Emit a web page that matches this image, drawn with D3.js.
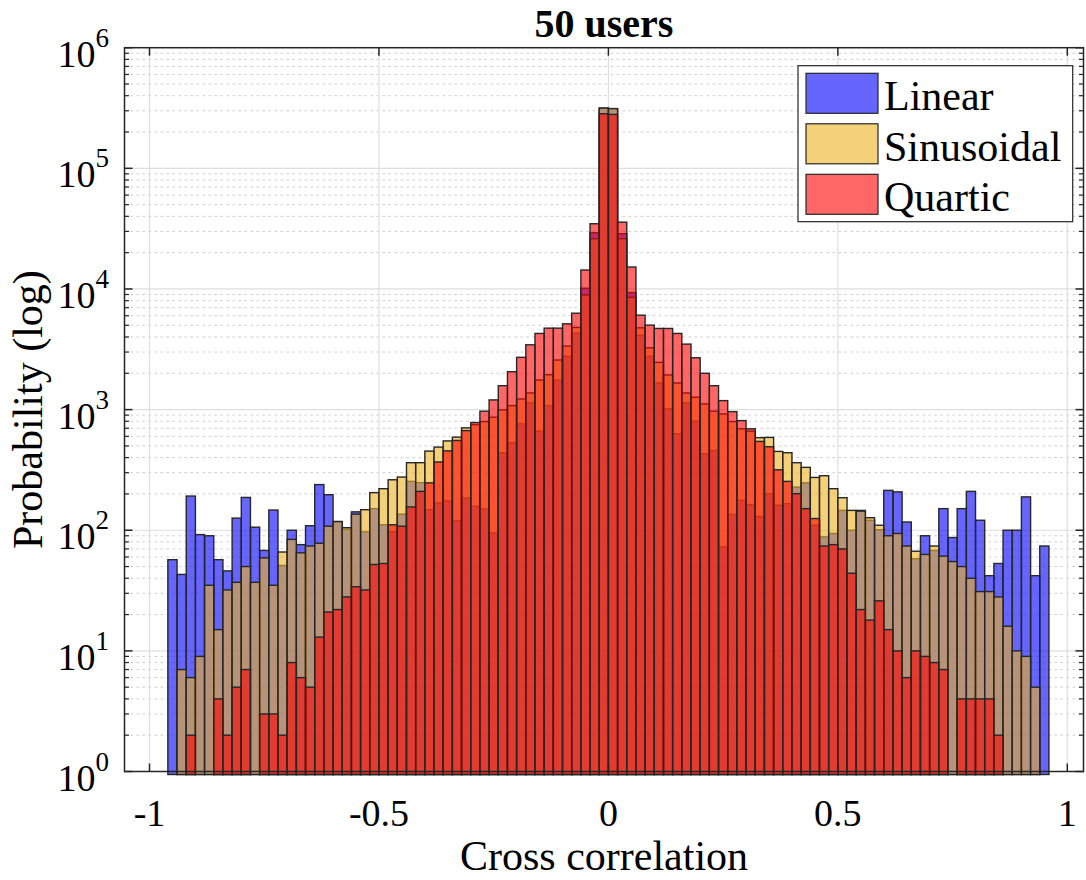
<!DOCTYPE html>
<html>
<head>
<meta charset="utf-8">
<script src="https://cdn.jsdelivr.net/npm/d3@7"></script>
<style>
  body { margin: 0; background: #fff; }
  svg { display: block; }
  text { font-family: "Liberation Serif", "Times New Roman", serif; fill: #000; }
</style>
</head>
<body>
<svg id="chart" width="1086" height="880"></svg>
<script>
// Histogram bins: 96 bins of width 0.02 covering [-0.96, 0.96]
const binStart = -0.96;
const binWidth = 0.02;
const binCount = 96;

// Counts per bin for each mapping
const linearCounts = [
  57, 43, 192, 92, 90, 57, 46, 126, 187, 106, 68, 147, 51, 100, 76, 109,
  239, 197, 118, 102, 142, 97, 151, 111, 97, 136, 254, 248, 148, 168, 175, 120,
  185, 158, 150, 95, 439, 531, 762, 1136, 663, 1079, 1758, 2763, 4305, 10140, 29240, 315000,
  312000, 28700, 9340, 4143, 2763, 1662, 1014, 630, 1136, 802, 430, 458, 73, 135, 177, 163,
  130, 200, 161, 166, 228, 247, 110, 88, 94, 146, 100, 146, 121, 101, 214, 208,
  117, 58, 90, 68, 151, 87, 151, 210, 121, 42, 53, 100, 100, 189, 42, 74
];
const sinusoidalCounts = [
  0, 7, 6, 9, 35, 15, 32, 37, 50, 37, 59, 35, 66, 84, 65, 74,
  78, 108, 118, 105, 136, 148, 205, 221, 262, 276, 363, 363, 453, 489, 550, 591,
  706, 751, 796, 865, 995, 1079, 1225, 1374, 1758, 1946, 2576, 3360, 4800, 8920, 26100, 316000,
  313000, 26100, 8520, 4760, 3253, 2464, 1936, 1662, 1374, 1266, 1115, 970, 921, 796, 693, 663,
  585, 588, 450, 439, 363, 332, 274, 283, 221, 186, 146, 144, 127, 110, 90, 94,
  74, 67, 63, 74, 61, 55, 50, 40, 31, 31, 28, 16, 10, 9, 5, 0
];
const quarticCounts = [
  0, 0, 2, 0, 0, 4, 2, 5, 7, 0, 3, 3, 2, 8, 6, 5,
  13, 21, 22, 28, 34, 32, 52, 53, 111, 108, 156, 210, 247, 368, 455, 555,
  670, 781, 970, 1203, 1578, 2061, 2711, 3445, 4278, 4733, 4733, 5141, 6296, 14350, 34730, 283400,
  280000, 35800, 15200, 6063, 5013, 4707, 4707, 4278, 3491, 2690, 2000, 1578, 1187, 962, 811, 693,
  545, 492, 317, 254, 201, 151, 125, 74, 76, 70, 44, 22, 18, 26, 15, 10,
  6, 10, 9, 8, 7, 0, 4, 4, 4, 4, 2, 0, 0, 0, 0, 0
];

const seriesNames = ["Linear", "Sinusoidal", "Quartic"];
const seriesColors = ["#0000ff", "#edb120", "#ff0000"];

const xTickValues = [-1, -0.5, 0, 0.5, 1];
const xTickLabels = ["-1", "-0.5", "0", "0.5", "1"];
const yTickExponents = [0, 1, 2, 3, 4, 5, 6];

const titleText = "50 users";
const xLabelText = "Cross correlation";
const yLabelText = "Probability (log)";

// ---- layout ----
const plot = { left: 124.5, right: 1083.5, top: 47.7, bottom: 771.5 };
const axisColor = "#262626";

const svg = d3.select("#chart");

const x = d3.scaleLinear().domain([-1.0545, 1.0353]).range([plot.left, plot.right]);
const y = d3.scaleLog().domain([1, 1e6]).range([plot.bottom, plot.top]);

// ---- grid ----
const grid = svg.append("g");
const minorValues = [];
for (let k = 0; k < 6; k++) for (let m = 2; m <= 9; m++) minorValues.push(m * Math.pow(10, k));

grid.selectAll("line.minor").data(minorValues).join("line")
  .attr("x1", plot.left).attr("x2", plot.right)
  .attr("y1", d => y(d)).attr("y2", d => y(d))
  .attr("stroke", "#cccccc").attr("stroke-width", 1)
  .attr("stroke-dasharray", "2.5,3.5");

grid.selectAll("line.majy").data(yTickExponents.map(e => Math.pow(10, e))).join("line")
  .attr("x1", plot.left).attr("x2", plot.right)
  .attr("y1", d => y(d)).attr("y2", d => y(d))
  .attr("stroke", "#dedede").attr("stroke-width", 1.2);

grid.selectAll("line.majx").data(xTickValues).join("line")
  .attr("x1", d => x(d)).attr("x2", d => x(d))
  .attr("y1", plot.top).attr("y2", plot.bottom)
  .attr("stroke", "#dedede").attr("stroke-width", 1.2);

// ---- histogram bars ----
const binEdges = d3.range(binCount + 1).map(i => binStart + i * binWidth);
const allSeries = [linearCounts, sinusoidalCounts, quarticCounts];

allSeries.forEach((counts, si) => {
  const bins = counts.map((c, i) => ({ x0: binEdges[i], x1: binEdges[i + 1], c }))
    .filter(d => d.c > 0);
  svg.append("g").selectAll("rect").data(bins).join("rect")
    .attr("x", d => x(d.x0))
    .attr("width", d => x(d.x1) - x(d.x0))
    .attr("y", d => y(d.c))
    .attr("height", d => plot.bottom + 3 - y(d.c))
    .attr("fill", seriesColors[si])
    .attr("fill-opacity", 0.6)
    .attr("stroke", axisColor)
    .attr("stroke-width", 1.4);
});

// ---- axes box and ticks ----
const axes = svg.append("g");
axes.append("rect")
  .attr("x", plot.left).attr("y", plot.top)
  .attr("width", plot.right - plot.left).attr("height", plot.bottom - plot.top)
  .attr("fill", "none").attr("stroke", axisColor).attr("stroke-width", 1.5);

const majLen = 8, minLen = 4.5;
// x ticks (bottom and top, pointing inward)
xTickValues.forEach(v => {
  axes.append("line").attr("x1", x(v)).attr("x2", x(v))
    .attr("y1", plot.bottom).attr("y2", plot.bottom - majLen)
    .attr("stroke", axisColor).attr("stroke-width", 1.5);
  axes.append("line").attr("x1", x(v)).attr("x2", x(v))
    .attr("y1", plot.top).attr("y2", plot.top + majLen)
    .attr("stroke", axisColor).attr("stroke-width", 1.5);
});
// y ticks (left and right)
yTickExponents.forEach(e => {
  const yy = y(Math.pow(10, e));
  axes.append("line").attr("x1", plot.left).attr("x2", plot.left + majLen)
    .attr("y1", yy).attr("y2", yy).attr("stroke", axisColor).attr("stroke-width", 1.5);
  axes.append("line").attr("x1", plot.right).attr("x2", plot.right - majLen)
    .attr("y1", yy).attr("y2", yy).attr("stroke", axisColor).attr("stroke-width", 1.5);
});
minorValues.forEach(v => {
  const yy = y(v);
  axes.append("line").attr("x1", plot.left).attr("x2", plot.left + minLen)
    .attr("y1", yy).attr("y2", yy).attr("stroke", axisColor).attr("stroke-width", 1.2);
  axes.append("line").attr("x1", plot.right).attr("x2", plot.right - minLen)
    .attr("y1", yy).attr("y2", yy).attr("stroke", axisColor).attr("stroke-width", 1.2);
});

// ---- tick labels ----
const tickFont = 38;
svg.append("g").selectAll("text").data(xTickValues).join("text")
  .attr("x", d => x(d))
  .attr("y", 826)
  .attr("text-anchor", "middle")
  .attr("font-size", tickFont)
  .text((d, i) => xTickLabels[i]);

const yLab = svg.append("g").selectAll("text").data(yTickExponents).join("text")
  .attr("x", 109)
  .attr("y", d => y(Math.pow(10, d)) + 19)
  .attr("text-anchor", "end")
  .attr("font-size", tickFont);
yLab.append("tspan").text("10");
yLab.append("tspan").attr("font-size", 27).attr("dy", -20).text(d => d);

// ---- titles ----
svg.append("text")
  .attr("x", (plot.left + plot.right) / 2)
  .attr("y", 37)
  .attr("text-anchor", "middle")
  .attr("font-size", 40)
  .attr("font-weight", "bold")
  .text(titleText);

svg.append("text")
  .attr("x", (plot.left + plot.right) / 2)
  .attr("y", 870)
  .attr("text-anchor", "middle")
  .attr("font-size", 42)
  .text(xLabelText);

svg.append("text")
  .attr("transform", `translate(42,${(plot.top + plot.bottom) / 2}) rotate(-90)`)
  .attr("text-anchor", "middle")
  .attr("font-size", 42)
  .text(yLabelText);

// ---- legend ----
const legend = svg.append("g");
legend.append("rect")
  .attr("x", 798).attr("y", 65.7).attr("width", 274.7).attr("height", 156)
  .attr("fill", "#fff").attr("stroke", axisColor).attr("stroke-width", 1.2);
seriesNames.forEach((name, i) => {
  const top = 73.3 + i * 50.5;
  legend.append("rect")
    .attr("x", 806).attr("y", top).attr("width", 72).attr("height", 40)
    .attr("fill", seriesColors[i]).attr("fill-opacity", 0.6)
    .attr("stroke", axisColor).attr("stroke-width", 1.2);
  legend.append("text")
    .attr("x", 884).attr("y", top + 37)
    .attr("font-size", 42)
    .text(name);
});
</script>
</body>
</html>
